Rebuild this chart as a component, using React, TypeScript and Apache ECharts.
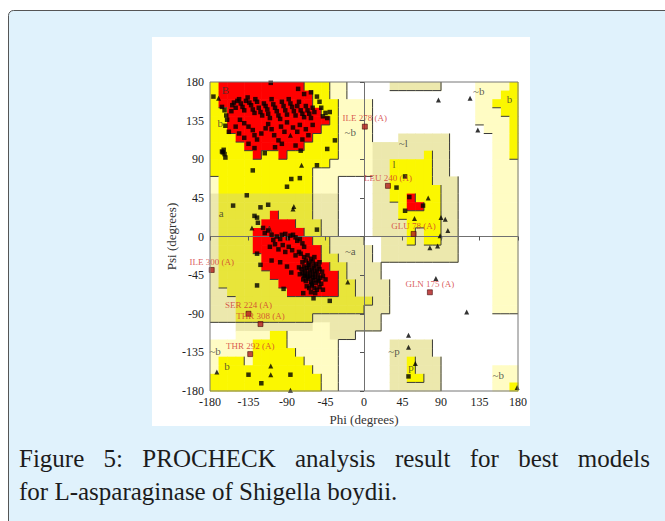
import React, { useEffect, useRef } from 'react';
import * as echarts from 'echarts';

// Region map: 36 rows (psi 180 -> -180, 10 deg each) x 36 cols (phi -180 -> 180)
// R core, Y allowed, y allowed (shaded), P generous, K generous (shaded), W disallowed
const REGION_ROWS: string[] = [
  'YRRRRR' + 'RRRRRY' + 'YYPPWW' + 'WWWKKK' + 'KKKWWW' + 'WPPPPY',
  'YRRRRR' + 'RRRRRR' + 'YYPPWW' + 'WWWWWW' + 'WWWWWW' + 'WPPPYY',
  'YRRRRR' + 'RRRRRR' + 'YYYPPP' + 'PWWWWW' + 'WWWWWW' + 'WPPYYY',
  'YYRRRR' + 'RRRRRR' + 'RYYPPP' + 'PWWWWW' + 'WWWWWW' + 'WPPPYY',
  'YYRRRR' + 'RRRRRR' + 'RRYPPP' + 'PWWWWW' + 'WWWWWW' + 'WPPPPY',
  'YYRRRR' + 'RRRRRR' + 'RYYPPP' + 'PWWWWW' + 'WWWWWW' + 'WWPPPY',
  'YYYRRR' + 'RRRRRR' + 'YYYPPP' + 'PWWWKK' + 'KKKKWW' + 'WWWPPY',
  'YYYYRR' + 'RRRRRY' + 'YYYPPP' + 'PKKKKK' + 'KKKKWW' + 'WWWPPY',
  'YYYYYR' + 'YYRYYY' + 'YYYPPP' + 'PKKKKK' + 'KYKKWW' + 'WWWPPY',
  'YYYYYY' + 'YYYYYY' + 'YYPPPP' + 'PKKYYY' + 'YYKKWW' + 'WWWPPP',
  'YYYYYY' + 'YYYYYY' + 'PPPPPP' + 'PKKYYY' + 'YYKKWW' + 'WWWPPP',
  'PYYYYY' + 'YYYYYY' + 'PPPWWW' + 'WKKYYY' + 'YYKKKW' + 'WWWPPP',
  'PYYYYY' + 'YYYYYY' + 'PPPWWW' + 'WKKYYY' + 'YYYKKW' + 'WWWPPP',
  'Kyyyyy' + 'yyyyyy' + 'KKKWWW' + 'WKKYYR' + 'YYYKKW' + 'WWWPPP',
  'Kyyyyy' + 'yyyyyy' + 'KKKWWW' + 'WKKKYR' + 'RYYKKW' + 'WWWPPP',
  'Kyyyyy' + 'yRyyyy' + 'KKKWWW' + 'WKKKYY' + 'YYYKKW' + 'WWWPPP',
  'Kyyyyy' + 'RRRRyy' + 'yKKWWW' + 'WKKKKY' + 'YYYKKW' + 'WWWPPP',
  'KyyyyR' + 'RRRRRy' + 'yKKWWW' + 'WKKKKY' + 'KYYKKW' + 'WWWPPP',
  'KyyyyR' + 'RRRRRR' + 'yyKKKK' + 'WWKKKY' + 'KYYKKW' + 'WWWPPP',
  'KyyyyR' + 'RRRRRR' + 'RyKKKK' + 'KWKKKK' + 'KKKKKW' + 'WWWPPP',
  'Kyyyyy' + 'RRRRRR' + 'RyyKKK' + 'KWKKKK' + 'KKKKKW' + 'WWWPPP',
  'Kyyyyy' + 'RRRRRR' + 'RRyyKK' + 'KKWWWW' + 'WWWWWW' + 'WWWPPP',
  'Kyyyyy' + 'yRRRRR' + 'RRRyKK' + 'KKWWWW' + 'WWWWWW' + 'WWWPPP',
  'Kyyyyy' + 'yyRRRR' + 'RRRyyK' + 'KKKWWW' + 'WWWWWW' + 'WWWPPP',
  'KKyyyy' + 'yyyRRR' + 'RRRyyK' + 'KKKWWW' + 'WWWWWW' + 'WWWPPP',
  'KKKyyy' + 'yyyyyy' + 'yyyyyy' + 'yKKWWW' + 'WWWWWW' + 'WWWPPP',
  'KKKyyy' + 'yyyyyy' + 'yyyyyy' + 'KKKWWW' + 'WWWWWW' + 'WWWPPP',
  'KKKyyy' + 'yyyyyy' + 'KKKKKK' + 'KKWWWW' + 'WWWWWW' + 'WWWWWW',
  'WWWKKK' + 'KKKKKK' + 'PPKKKK' + 'KKWWWW' + 'WWWWWW' + 'WWWWWW',
  'WWWPPP' + 'PYYPPP' + 'PPKKKW' + 'WWWWWW' + 'WWWWWW' + 'WWWWWW',
  'PPPPPY' + 'YYYPPP' + 'PPPWWW' + 'WWWKKK' + 'KKWWWW' + 'WWWWWW',
  'PPPPPY' + 'YYYYPP' + 'PPPWWW' + 'WWWKKK' + 'KKWWWW' + 'WWWWWW',
  'PYYYPY' + 'YYYYYP' + 'PPPWWW' + 'WWWKKY' + 'KKKWWW' + 'WWWWWW',
  'PYYYYY' + 'YYYYYY' + 'PPPWWW' + 'WWWKKY' + 'KKKWWW' + 'WWWPPP',
  'YYYYYY' + 'YYYYYY' + 'YPPWWW' + 'WWWKKY' + 'YKKWWW' + 'WWWPPP',
  'YYYYYY' + 'YYYYYY' + 'YPPWWW' + 'WWWKKK' + 'KKKWWW' + 'WWWPPY',
];

const REGION_TYPES = ['W', 'P', 'K', 'y', 'Y', 'R'];
const REGION_COLORS = ['#ffffff', '#fffcc4', '#ece8ad', '#e8e53a', '#fbf700', '#ff0000'];
const REGION_LEVELS = [0, 1, 1, 2, 2, 3];

const AXIS_MIN = -180;
const AXIS_MAX = 180;
const AXIS_STEP = 45;

// Residues (phi, psi) — non-glycine
const generalPoints: [number, number][] = [
  [-109, 179], [-77, 172], [-70, 166], [-62, 168], [-55, 163], [-52, 157], [-50, 150], [-45, 144], [-48, 140], [-43, 138], [-40, 145],
  [-176, 163], [-166, 151], [-163, 147], [-161, 141], [-160, 136], [-162, 129], [-158, 122], [-155, 146], [-154, 153], [-152, 156], [-150, 150],
  [-148, 158], [-146, 160], [-144, 155], [-142, 151], [-140, 147], [-138, 158], [-136, 162], [-134, 156], [-132, 153], [-130, 148], [-128, 144],
  [-127, 160], [-125, 157], [-123, 150], [-121, 145], [-119, 141], [-117, 155], [-115, 152], [-113, 148], [-112, 143], [-110, 138], [-108, 160],
  [-106, 154], [-104, 150], [-102, 146], [-100, 141], [-98, 137], [-96, 157], [-94, 152], [-92, 147], [-90, 142], [-88, 160], [-86, 155], [-84, 151],
  [-82, 146], [-80, 141], [-78, 152], [-76, 157], [-74, 147], [-72, 143], [-70, 139], [-68, 152], [-66, 147], [-64, 143], [-62, 138], [-60, 150], [-58, 145],
  [-145, 136], [-140, 132], [-135, 128], [-130, 124], [-128, 118], [-125, 113], [-120, 120], [-115, 126], [-112, 131], [-108, 125], [-105, 118],
  [-100, 112], [-97, 128], [-93, 122], [-90, 133], [-83, 127], [-78, 122], [-75, 130], [-72, 113], [-68, 125], [-65, 118], [-60, 130],
  [-150, 128], [-146, 120], [-140, 115], [-135, 108], [-128, 103], [-116, 97], [-104, 104], [-96, 108], [-80, 106], [-74, 100],
  [-164, 101], [-165, 98], [-163, 96], [-166, 99], [-162, 92],
  [-130, 77], [-90, 58], [-85, 67], [-75, 68], [-55, 83], [-43, 102], [-34, 112], [-137, 48], [-153, 36],
  [-121, 34], [-112, 37], [-128, 24], [-125, 22], [-124, 16], [-55, 8],
  [-118, 10], [-116, 4], [-112, 7], [-108, 2], [-106, -4], [-102, 0], [-98, -3], [-96, 2], [-92, 3], [-89, -2], [-86, 1], [-83, 2], [-80, -1],
  [-78, -5], [-75, -3], [-72, -8], [-70, -12],
  [-110, -12], [-104, -9], [-100, -15], [-95, -10], [-92, -18], [-88, -12], [-84, -16], [-80, -22], [-76, -18],
  [-125, -20], [-121, -33], [-125, -57], [-94, -61], [-71, -66], [-59, -72], [-40, -75], [-108, -28], [-98, -30], [-90, -35], [-85, -42],
  [-45, -50], [-48, -62],
  [-74, -20], [-70, -24], [-66, -22], [-62, -26], [-58, -24], [-72, -30], [-68, -28], [-64, -31], [-60, -29], [-56, -32], [-52, -30],
  [-76, -36], [-73, -38], [-70, -35], [-67, -37], [-64, -36], [-61, -39], [-58, -37], [-55, -40], [-52, -38], [-49, -41],
  [-75, -44], [-72, -42], [-69, -45], [-66, -43], [-63, -46], [-60, -44], [-57, -47], [-54, -45], [-51, -48], [-48, -46],
  [-71, -50], [-68, -52], [-65, -49], [-62, -53], [-59, -51], [-56, -54], [-53, -52], [-50, -55],
  [-67, -58], [-64, -60], [-61, -57], [-58, -60], [-55, -62], [-52, -59], [-62, -65], [-57, -66],
  [-69, -40], [-66, -47], [-63, -41], [-60, -48], [-57, -42], [-54, -50], [-65, -33], [-59, -34], [-53, -35], [-70, -46], [-61, -55],
  [48, 70], [38, 57], [53, 46], [48, 30], [69, 36], [52, -163], [-135, -161], [-120, -171], [-86, -161],
];

// Glycine residues (phi, psi)
const glycinePoints: [number, number][] = [
  [-170, 161], [-131, 10], [-82, 35], [-83, 32], [-19, -53], [-73, 83], [-86, 118],
  [87, 159], [124, 161], [133, 124], [75, 45], [59, 21], [90, 22], [95, 20], [98, 7], [89, 1], [86, -11], [77, -13],
  [84, -49], [120, -88], [52, -115], [52, -129], [60, -148], [179, -176],
  [-172, -158], [-109, -151], [-109, -161], [-86, -179],
];

// Labelled residues in disallowed / generous regions
const outlierNames: string[] = [
  'ILE 278 (A)', 'LEU 240 (A)', 'GLU 78 (A)', 'GLN 175 (A)',
  'ILE 300 (A)', 'SER 224 (A)', 'THR 308 (A)', 'THR 292 (A)',
];
const outlierPoints: [number, number][] = [
  [1, 128], [28, 59], [58, 3], [77, -65],
  [-178, -39], [-135, -90], [-121, -102], [-133, -137],
];

// Region letters
const regionLabelTexts: string[] = ['B', 'b', 'a', 'A', '~b', '~a', '~l', 'l', '~p', 'p', '~b', 'b', '~b', '~b', 'b'];
const regionLabelPoints: [number, number][] = [
  [-162, 171], [-168, 132], [-167, 27], [-111, 9], [-16, 122], [-16, -17], [46, 109], [35, 84],
  [35, -133], [55, -152], [134, 170], [170, 160], [157, -161], [-174, -133], [-160, -151],
];

const captionLine1 = 'Figure 5: PROCHECK analysis result for best models';
const captionLine2 = 'for L-asparaginase of Shigella boydii.';

const SERIF = '"Liberation Serif", "DejaVu Serif", serif';

export default function App() {
  const ref = useRef<HTMLDivElement>(null);

  useEffect(() => {
    if (!ref.current) return;
    const chart = echarts.init(ref.current, null, { renderer: 'svg' });

    // cells and their shaded edges (right / bottom sides of higher regions)
    const cellData: number[][] = [];
    const lineData: number[][] = [];
    const typeAt = (r: number, c: number) => REGION_TYPES.indexOf(REGION_ROWS[r][c]);
    for (let r = 0; r < 36; r++) {
      for (let c = 0; c < 36; c++) {
        const t = typeAt(r, c);
        const phi0 = -180 + c * 10;
        const psi0 = 180 - r * 10;
        if (t > 0) cellData.push([phi0, psi0, t]);
        const lv = REGION_LEVELS[t];
        if (c < 35 && lv > REGION_LEVELS[typeAt(r, c + 1)]) {
          lineData.push([phi0 + 10, psi0, phi0 + 10, psi0 - 10]);
        }
        if (r < 35 && lv > REGION_LEVELS[typeAt(r + 1, c)]) {
          lineData.push([phi0, psi0 - 10, phi0 + 10, psi0 - 10]);
        }
      }
    }

    // caption justification (first line spans the full width)
    const capFont = '25px "Liberation Serif"';
    const ctx = document.createElement('canvas').getContext('2d');
    const words = captionLine1.split(' ');
    let widths = words.map((w) => w.length * 11);
    if (ctx) {
      ctx.font = capFont;
      widths = words.map((w) => ctx.measureText(w).width);
    }
    const capLeft = 19;
    const capRight = 650;
    const total = widths.reduce((a, b) => a + b, 0);
    const gap = (capRight - capLeft - total) / (words.length - 1);
    let cx = capLeft;
    const wordEls = words.map((w, i) => {
      const el = {
        type: 'text',
        x: cx,
        y: 458,
        z: 100,
        style: { text: w, font: capFont, fill: '#1c1c1c', textAlign: 'left', textVerticalAlign: 'middle', align: 'left', verticalAlign: 'middle' },
      };
      cx += widths[i] + gap;
      return el;
    });

    const option: any = {
      animation: false,
      graphic: [
        {
          type: 'rect', z: 0,
          shape: { x: 8.5, y: 10.5, width: 700, height: 600, r: 5 },
          style: { fill: '#e0f2fc', stroke: '#555', lineWidth: 1 },
        },
        {
          type: 'rect', z: 0,
          shape: { x: 152, y: 37, width: 378, height: 389 },
          style: { fill: '#ffffff' },
        },
        ...wordEls,
        {
          type: 'text', x: capLeft, y: 491.5, z: 100,
          style: { text: captionLine2, font: capFont, fill: '#1c1c1c', textAlign: 'left', textVerticalAlign: 'middle', align: 'left', verticalAlign: 'middle' },
        },
      ],
      grid: { left: 210, top: 82, width: 308, height: 309, show: true, borderColor: '#777', borderWidth: 1, backgroundColor: 'transparent', z: 10 },
      xAxis: {
        type: 'value', min: AXIS_MIN, max: AXIS_MAX, interval: AXIS_STEP,
        axisLine: { show: false },
        axisTick: { show: true, inside: false, length: 4, lineStyle: { color: '#555' } },
        splitLine: { show: false },
        axisLabel: { fontFamily: SERIF, fontSize: 12, color: '#222', margin: 5 },
        name: 'Phi (degrees)', nameLocation: 'middle', nameGap: 17,
        nameTextStyle: { fontFamily: SERIF, fontSize: 13, color: '#333' },
        z: 10,
      },
      yAxis: {
        type: 'value', min: AXIS_MIN, max: AXIS_MAX, interval: AXIS_STEP,
        axisLine: { show: false },
        axisTick: { show: true, inside: false, length: 4, lineStyle: { color: '#555' } },
        splitLine: { show: false },
        axisLabel: { fontFamily: SERIF, fontSize: 12, color: '#222', margin: 6 },
        name: 'Psi (degrees)', nameLocation: 'middle', nameGap: 30,
        nameTextStyle: { fontFamily: SERIF, fontSize: 13, color: '#333' },
        z: 10,
      },
      series: [
        {
          type: 'custom', name: 'regions', z: 2, silent: true,
          encode: { x: 0, y: 1 },
          data: cellData,
          renderItem: (params: any, api: any) => {
            const phi0 = api.value(0);
            const psi0 = api.value(1);
            const t = api.value(2);
            const p1 = api.coord([phi0, psi0]);
            const p2 = api.coord([phi0 + 10, psi0 - 10]);
            return {
              type: 'rect',
              shape: { x: p1[0], y: p1[1], width: p2[0] - p1[0] + 0.6, height: p2[1] - p1[1] + 0.6 },
              style: { fill: REGION_COLORS[t], stroke: null },
            };
          },
        },
        {
          type: 'custom', name: 'edges', z: 3, silent: true,
          encode: { x: [0, 2], y: [1, 3] },
          data: lineData,
          renderItem: (params: any, api: any) => {
            const a = api.coord([api.value(0), api.value(1)]);
            const b = api.coord([api.value(2), api.value(3)]);
            return {
              type: 'line',
              shape: { x1: a[0], y1: a[1], x2: b[0], y2: b[1] },
              style: { stroke: '#3a3a3a', lineWidth: 1 },
            };
          },
          markLine: {
            silent: true, symbol: 'none', label: { show: false },
            lineStyle: { color: '#707070', width: 1, type: 'solid' },
            data: [{ xAxis: 0 }, { yAxis: 0 }],
          },
        },
        {
          type: 'scatter', name: 'regionLabels', z: 4, silent: true,
          symbolSize: 0,
          data: regionLabelTexts.map((t, i) => ({ name: t, value: regionLabelPoints[i] })),
          label: {
            show: true, position: 'inside', formatter: '{b}',
            fontFamily: SERIF, fontSize: 11,
            color: '#333',
          },
        },
        {
          type: 'scatter', name: 'residues', z: 5,
          symbol: 'rect', symbolSize: 4.5,
          itemStyle: { color: '#000' },
          data: generalPoints,
        },
        {
          type: 'scatter', name: 'glycine', z: 5,
          symbol: 'triangle', symbolSize: 5,
          itemStyle: { color: '#000' },
          data: glycinePoints,
        },
        {
          type: 'scatter', name: 'outliers', z: 6,
          symbol: 'rect', symbolSize: 5,
          itemStyle: { color: '#b01c1c', borderColor: '#3a0000', borderWidth: 0.7 },
          data: outlierNames.map((n, i) => ({ name: n, value: outlierPoints[i] })),
          label: {
            show: true, position: 'top', distance: 1, formatter: '{b}',
            fontFamily: SERIF, fontSize: 9, color: '#d03030',
          },
        },
      ],
    };

    chart.setOption(option);
    return () => chart.dispose();
  }, []);

  return <div ref={ref} style={{ position: 'absolute', left: 0, top: 0, width: 665, height: 521 }} />;
}
